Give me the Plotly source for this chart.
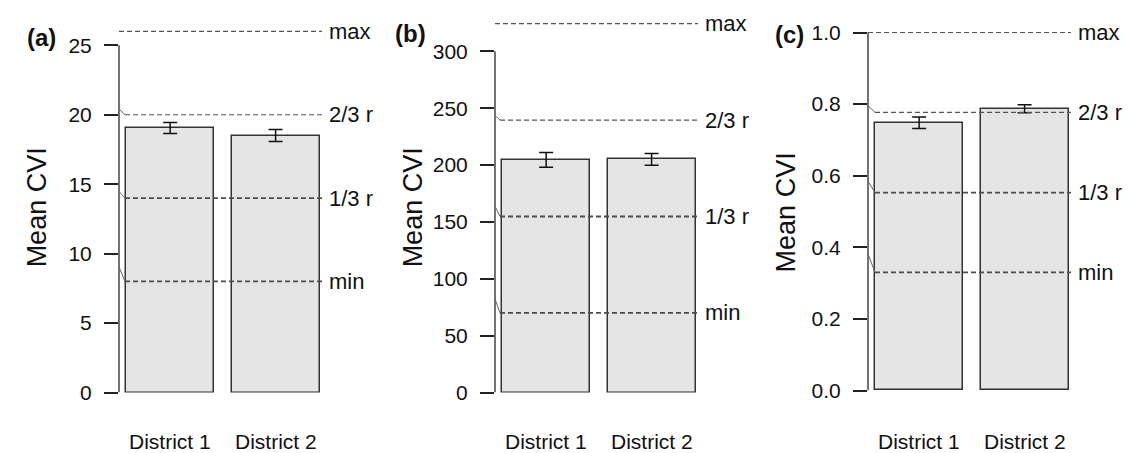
import plotly.graph_objects as go

# ---------------- data ----------------
categories = ["District 1", "District 2"]
panel_labels = ["(a)", "(b)", "(c)"]
ref_names = ["max", "2/3 r", "1/3 r", "min"]

means_a = [19.05, 18.5]
err_a = [0.40, 0.43]
ref_a = [26.0, 20.0, 14.0, 8.0]
ticks_a = [0, 5, 10, 15, 20, 25]
ticktext_a = ["0", "5", "10", "15", "20", "25"]

means_b = [204.5, 205.0]
err_b = [6.5, 5.2]
ref_b = [324.4, 239.6, 154.8, 70.0]
ticks_b = [0, 50, 100, 150, 200, 250, 300]
ticktext_b = ["0", "50", "100", "150", "200", "250", "300"]

means_c = [0.748, 0.787]
err_c = [0.016, 0.011]
ref_c = [1.0, 0.777, 0.553, 0.33]
ticks_c = [0.0, 0.2, 0.4, 0.6, 0.8, 1.0]
ticktext_c = ["0.0", "0.2", "0.4", "0.6", "0.8", "1.0"]

# ---------------- layout / style ----------------
W = 1129
SY = 0.97                 # observed vertical scale of the page capture
FIG_H = round(453 / SY)   # figure height in page pixels


def py(y):
    """target picture y (px from top) -> page y"""
    return y / SY


def pfrac(y):
    """target picture y -> paper fraction"""
    return 1 - py(y) / FIG_H


FONT = "Liberation Sans, Arial, sans-serif"
TXT = "#111111"

panels = [
    dict(means=means_a, err=err_a, ref=ref_a, ticks=ticks_a, ticktext=ticktext_a,
         axis_px=119, zero_px=390, toptick_px=45, lab_px=(25, 37), title_y=206,
         conn_dy=[0, 5.5, 6.5, 14], conn_dx=6),
    dict(means=means_b, err=err_b, ref=ref_b, ticks=ticks_b, ticktext=ticktext_b,
         axis_px=495, zero_px=390, toptick_px=51, lab_px=(393, 33), title_y=206,
         conn_dy=[0, 4.5, 10, 13.5], conn_dx=5),
    dict(means=means_c, err=err_c, ref=ref_c, ticks=ticks_c, ticktext=ticktext_c,
         axis_px=868, zero_px=388, toptick_px=32.3, lab_px=(773, 34), title_y=211,
         conn_dy=[0, 6.5, 11, 18], conn_dx=7),
]

DOMAIN_W = 203
TOP_PX = 14
XR = [-0.485, 1.44]
BAR_W = 0.835

fig = go.Figure()
shapes = []
annotations = []

for i, p in enumerate(panels):
    n = "" if i == 0 else str(i + 1)
    xa, ya = "x" + n, "y" + n
    top_val = p["ticks"][-1]
    yr_top = top_val * (p["zero_px"] - TOP_PX) / (p["zero_px"] - p["toptick_px"])

    fig.add_trace(go.Bar(
        x=[0, 1], y=p["means"], width=BAR_W,
        marker=dict(color="#e5e5e5", line=dict(color="#333333", width=1.5)),
        error_y=dict(type="data", array=p["err"], visible=True,
                     color="#111111", thickness=1.5, width=7),
        xaxis=xa, yaxis=ya, showlegend=False, hoverinfo="skip",
    ))

    xdom = [p["axis_px"] / W, (p["axis_px"] + DOMAIN_W) / W]
    ydom = [pfrac(p["zero_px"]), pfrac(TOP_PX)]
    fig.update_layout(**{
        ("xaxis" + n): dict(domain=xdom, range=XR, anchor=ya, showgrid=False,
                            zeroline=False, showline=False, showticklabels=False,
                            ticks="", fixedrange=True),
        ("yaxis" + n): dict(domain=ydom, range=[0, yr_top], anchor=xa,
                            showgrid=False, zeroline=False, showline=False,
                            tickmode="array", tickvals=p["ticks"],
                            ticktext=p["ticktext"], ticks="outside", ticklen=14,
                            tickwidth=1.5, tickcolor="#222222",
                            ticklabelstandoff=8,
                            tickfont=dict(family=FONT, size=21, color=TXT),
                            fixedrange=True),
    })

    # axis line from first to last tick
    shapes.append(dict(type="line", xref=xa + " domain", yref=ya,
                       x0=0, x1=0, y0=p["ticks"][0], y1=p["ticks"][-1],
                       line=dict(color="#444444", width=1.5)))

    for j, (name, val) in enumerate(zip(ref_names, p["ref"])):
        thin = j < 2
        col = "#555555" if thin else "#4d4d4d"
        lw = 1.2 if thin else 1.8
        dx = 0 if j == 0 else p["conn_dx"]
        shapes.append(dict(type="line", xref=xa + " domain", yref=ya,
                           x0=dx / DOMAIN_W, x1=1, y0=val, y1=val,
                           line=dict(color=col, width=lw, dash="5px,3px")))
        if j > 0:
            shapes.append(dict(type="line", xref=xa + " domain", yref=ya,
                               xsizemode="pixel", xanchor=0, x0=0, x1=dx,
                               ysizemode="pixel", yanchor=val,
                               y0=py(p["conn_dy"][j]), y1=0,
                               line=dict(color="#666666", width=1.0)))
        annotations.append(dict(xref=xa + " domain", yref=ya, x=1, y=val,
                                xanchor="left", yanchor="middle", xshift=5,
                                text=name, showarrow=False,
                                font=dict(family=FONT, size=22, color=TXT)))

    for k, cat in enumerate(categories):
        annotations.append(dict(xref=xa, yref="paper", x=k, y=pfrac(439),
                                xanchor="center", yanchor="middle", text=cat,
                                showarrow=False,
                                font=dict(family=FONT, size=21, color=TXT)))

    annotations.append(dict(xref="paper", yref="paper",
                            x=(p["axis_px"] - 82) / W, y=pfrac(p["title_y"]),
                            xanchor="center", yanchor="middle", textangle=-90,
                            text="Mean CVI", showarrow=False,
                            font=dict(family=FONT, size=27, color=TXT)))

    annotations.append(dict(xref="paper", yref="paper",
                            x=p["lab_px"][0] / W, y=pfrac(p["lab_px"][1]),
                            xanchor="left", yanchor="middle",
                            text="<b>" + panel_labels[i] + "</b>", showarrow=False,
                            font=dict(family=FONT, size=24, color=TXT)))

fig.update_layout(width=W, height=FIG_H, margin=dict(l=0, r=0, t=0, b=0),
                  paper_bgcolor="white", plot_bgcolor="white",
                  shapes=shapes, annotations=annotations, bargap=0)

fig.write_html("out.html",
               config={"displayModeBar": False, "responsive": False},
               post_script="document.body.style.margin='0';"
                           "document.body.style.overflow='hidden';")
